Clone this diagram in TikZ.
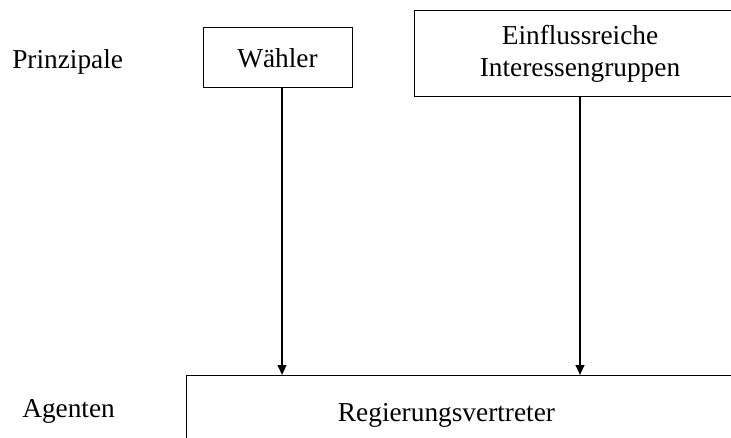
\documentclass[tikz,border=0pt]{standalone}
\usepackage{fontspec}
\setmainfont{Liberation Serif}
\usetikzlibrary{arrows.meta}

\tikzset{
  box/.style={draw, line width=0.75pt, rectangle, inner sep=0pt, align=center},
  lbl/.style={inner sep=0pt},
  pfeil/.style={line width=1.5pt, -{Triangle[length=7.5pt,width=6.5pt]}}
}

\begin{document}
\begin{tikzpicture}[x=0.75pt,y=0.75pt,yscale=-1,xscale=1,
  font=\fontsize{20.5}{24}\selectfont]
%set diagram frame 731 x 438
\useasboundingbox (0,0) rectangle (731,438);
\clip (0,0) rectangle (731,438);

%Text: level labels
\node[lbl, anchor=base west] (prinz) at (12,69) {Prinzipale};
\node[lbl, anchor=base west] (agenten) at (22,417) {Agenten};

%Shape: Rectangle [Waehler]
\node[box, minimum width=111.75pt, minimum height=45pt] (wahl) at (277.5,58) {Wähler};
%Shape: Rectangle [Interessengruppen]
\node[box, minimum width=249pt, minimum height=64.5pt] (intgr) at (580,54) {Einflussreiche\\Interessengruppen};
%Shape: Rectangle [Regierungsvertreter]
\node[box, anchor=north west, minimum width=450pt, minimum height=90pt] (agent) at (186,375) {};
\node[lbl, anchor=base] (reg) at (446.5,421) {Regierungsvertreter};

%Straight Lines with arrows
\draw[pfeil] ([xshift=3.4pt]wahl.south) -- ([xshift=3.4pt]wahl.south |- agent.north);
\draw[pfeil] (intgr.south) -- (intgr.south |- agent.north);

\end{tikzpicture}
\end{document}
